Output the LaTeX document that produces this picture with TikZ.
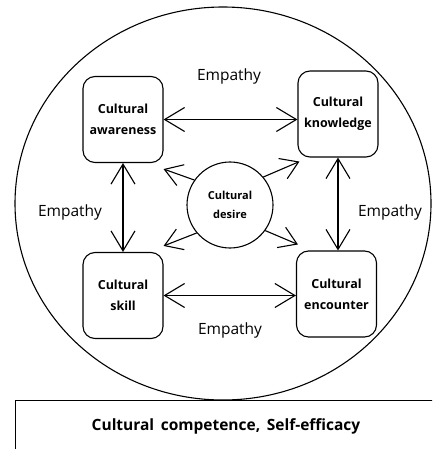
\documentclass[tikz,border=0pt]{standalone}
\usepackage{fontspec}
\setmainfont{Open Sans}
\usetikzlibrary{arrows.meta}
\begin{document}
\begin{tikzpicture}[x=1pt,y=-1pt,
  every node/.style={inner sep=0pt},
  cbox/.style={draw,line width=1.1pt,rounded corners=12pt,minimum width=80pt,minimum height=86pt,align=center,font=\bfseries\fontsize{12.5}{21}\selectfont},
  emp/.style={font=\fontsize{15.5}{18}\selectfont},
  arr/.style={line width=1.1pt,{Straight Barb[length=20pt,width=24pt,line width=1.1pt]}-{Straight Barb[length=20pt,width=24pt,line width=1.1pt]}},
  sarr/.style={line width=1.1pt,-{Straight Barb[length=17pt,width=22pt,line width=1.1pt]}}]
\useasboundingbox (0,0) rectangle (432,449);
\begin{scope}
\clip (0,0) rectangle (432,449);
\draw[line width=1.1pt] (223,203.5) ellipse [x radius=208, y radius=196.5];
\node[draw,line width=1.1pt,minimum width=440pt,minimum height=80pt,anchor=north west] (bot) at (15,400) {};
\end{scope}
\node[font=\bfseries\fontsize{15.5}{18}\selectfont] (ct) at (226,426) {Cultural\, competence,\, Self-efficacy};
\node[cbox] (aw) at (123,119.5) {Cultural\\awareness};
\node[cbox] (kn) at (338,114) {Cultural\\knowledge};
\node[cbox] (sk) at (123,295.5) {Cultural\\skill};
\node[cbox] (en) at (336.5,294) {Cultural\\encounter};
\node[draw,circle,line width=1.1pt,minimum size=86pt,align=center,font=\bfseries\fontsize{11}{19}\selectfont] (de) at (230,205) {Cultural\\desire};
\node[emp] (e1) at (229,76) {Empathy};
\node[emp] (e2) at (70,212) {Empathy};
\node[emp] (e3) at (390,212) {Empathy};
\node[emp] (e4) at (230,330) {Empathy};
\draw[arr] (aw.east) -- (aw.east -| kn.west);
\draw[arr] (sk.east) -- (sk.east -| en.west);
\draw[arr] (aw.south) -- (aw.south |- sk.north);
\draw[arr] (kn.south) -- (kn.south |- en.north);
\draw[sarr] (de.145) -- ([yshift=-6pt]aw.south east);
\draw[sarr] (de.40) -- ([xshift=2pt,yshift=-4pt]kn.south west);
\draw[sarr] (de.-140) -- ([yshift=6pt]sk.north east);
\draw[sarr] (de.-36) -- ([xshift=2pt,yshift=6pt]en.north west);
\end{tikzpicture}
\end{document}
